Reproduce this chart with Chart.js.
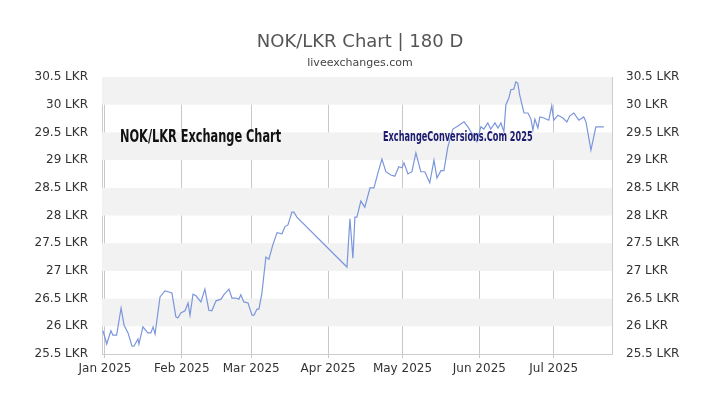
<!DOCTYPE html>
<html><head><meta charset="utf-8">
<script src="https://cdn.jsdelivr.net/npm/chart.js@4"></script>
<style>html,body{margin:0;padding:0;background:#fff}#w{width:720px;height:405px}</style>
</head><body><div id="w"><canvas id="c"></canvas></div>
<script>
const days=[-0.8,0.7,2.4,3.2,4.7,6.5,7.7,9.3,10.9,11.7,13.3,13.7,15.3,17.3,18.5,19.4,20.2,22.2,24.2,25.8,27.0,28.6,29.4,30.6,32.3,33.5,34.3,35.5,36.7,38.7,40.3,41.9,43.1,44.8,46.8,48.0,50.0,51.2,52.8,54.0,54.8,56.0,57.7,59.3,60.1,61.3,62.1,63.3,64.9,66.1,67.7,69.4,71.4,72.6,73.8,75.4,76.2,77.4,97.6,98.8,100.0,100.8,101.6,103.2,104.8,106.9,108.5,110.1,111.7,113.3,115.3,116.9,118.5,119.8,120.6,122.2,123.8,125.4,127.4,129.0,131.0,132.7,133.9,135.5,136.7,138.3,140.3,141.9,144.8,146.4,147.6,150.0,151.6,152.8,154.4,155.6,157.3,158.5,159.7,160.9,161.7,162.9,163.7,164.9,165.7,166.5,167.3,169.0,170.6,171.8,172.6,173.4,174.6,175.4,177.0,179.0,180.2,181.0,182.7,184.7,186.3,187.5,189.1,191.1,193.1,194.0,196.0,198.0,199.2,201.2];
const rates=[25.92,25.68,25.92,25.84,25.84,26.33,26.02,25.88,25.64,25.64,25.77,25.68,25.99,25.88,25.88,25.99,25.86,26.53,26.64,26.62,26.60,26.17,26.15,26.24,26.28,26.42,26.20,26.58,26.55,26.44,26.67,26.29,26.28,26.46,26.49,26.57,26.67,26.51,26.51,26.49,26.57,26.44,26.42,26.20,26.20,26.31,26.31,26.60,27.25,27.21,27.47,27.69,27.67,27.80,27.83,28.06,28.06,27.97,27.07,27.94,27.23,27.97,27.97,28.26,28.15,28.50,28.50,28.77,29.02,28.79,28.73,28.71,28.88,28.86,28.95,28.75,28.79,29.13,28.79,28.79,28.59,29.00,28.68,28.81,28.81,29.24,29.56,29.60,29.69,29.60,29.51,29.33,29.60,29.56,29.67,29.56,29.67,29.58,29.67,29.51,30.00,30.12,30.27,30.28,30.41,30.39,30.17,29.85,29.85,29.74,29.54,29.74,29.58,29.78,29.76,29.72,29.98,29.72,29.81,29.76,29.69,29.80,29.85,29.72,29.78,29.69,29.18,29.60,29.60,29.60];
const monthDays=[0,31,59,90,120,151,181];
const monthLabels=['Jan 2025','Feb 2025','Mar 2025','Apr 2025','May 2025','Jun 2025','Jul 2025'];
const yTicks=[25.5,26,26.5,27,27.5,28,28.5,29,29.5,30,30.5];
const title='NOK/LKR Chart | 180 D', subtitle='liveexchanges.com';
const mark1='NOK/LKR Exchange Chart', mark2='ExchangeConversions.Com 2025';

const deco={id:'deco',
 beforeDatasetsDraw(ch){const {ctx,chartArea:a,scales:{y}}=ch;ctx.save();ctx.fillStyle='#f2f2f2';
  for(let v=26;v<30.6;v+=1){const t=y.getPixelForValue(v+0.5),b=y.getPixelForValue(v);ctx.fillRect(a.left,t,a.right-a.left,b-t);}
  ctx.restore();},
 afterDraw(ch){const {ctx}=ch;ctx.save();ctx.textAlign='center';ctx.fillStyle='#555';
  ctx.font='18px "DejaVu Sans"';ctx.fillText(title,360,47);
  ctx.font='11px "DejaVu Sans"';ctx.fillStyle='#444';ctx.fillText(subtitle,360,66);
  ctx.textAlign='left';ctx.fillStyle='#111';ctx.font='bold 18px "DejaVu Sans Condensed","Liberation Sans Narrow"';
  ctx.save();ctx.translate(120,142);ctx.scale(0.70,1);ctx.fillText(mark1,0,0);ctx.restore();
  ctx.fillStyle='#1a1a6e';ctx.font='bold 14px "DejaVu Sans Condensed","Liberation Sans Narrow"';
  ctx.save();ctx.translate(383,141);ctx.scale(0.65,1);ctx.fillText(mark2,0,0);ctx.restore();
  ctx.restore();}};

const tickFont={family:'"DejaVu Sans"',size:12};
new Chart(document.getElementById('c'),{type:'line',
 data:{datasets:[{data:days.map((d,i)=>({x:d,y:rates[i]})),borderColor:'#7b96dc',borderWidth:1.2,pointRadius:0,tension:0,fill:false}]},
 options:{responsive:true,maintainAspectRatio:false,animation:false,
  layout:{padding:{top:77,left:0,right:0,bottom:0}},
  plugins:{legend:{display:false},tooltip:{enabled:false}},
  scales:{
   x:{type:'linear',min:-1.2,max:204.5,
    afterBuildTicks(s){s.ticks=monthDays.map(v=>({value:v}));},
    afterFit(s){s.height=51;},
    ticks:{autoSkip:false,maxRotation:0,color:'#333',font:tickFont,padding:4,callback:(v)=>monthLabels[monthDays.indexOf(v)]},
    grid:{color:'#c8c8c8',drawTicks:true,tickLength:4},border:{color:'#ccc'}},
   y:{position:'left',min:25.5,max:30.5,
    afterBuildTicks(s){s.ticks=yTicks.map(v=>({value:v}));},
    afterFit(s){s.width=102;},
    ticks:{color:'#333',font:tickFont,padding:6,callback:v=>v+' LKR'},
    grid:{display:false},border:{color:'#ccc'}},
   y2:{position:'right',min:25.5,max:30.5,
    afterBuildTicks(s){s.ticks=yTicks.map(v=>({value:v}));},
    afterFit(s){s.width=108;},
    ticks:{color:'#333',font:tickFont,padding:6,callback:v=>v+' LKR'},
    grid:{display:false,drawTicks:true},border:{color:'#ccc'}}}},
 plugins:[deco]});
</script></body></html>
